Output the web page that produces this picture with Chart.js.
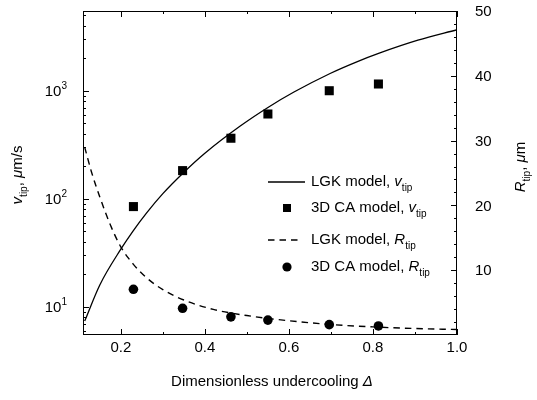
<!DOCTYPE html>
<html>
<head>
<meta charset="utf-8">
<script src="https://cdn.jsdelivr.net/npm/chart.js@4.4.1/dist/chart.umd.min.js"></script>
<style>
  html, body { margin: 0; padding: 0; background: #fff; }
</style>
</head>
<body>
<canvas id="chart" width="537" height="400"></canvas>
<script>
// LGK model, tip velocity (um/s)
const lgkVDelta = [0.114, 0.15, 0.2, 0.229, 0.261, 0.3, 0.349, 0.4, 0.485, 0.552, 0.612, 0.698, 0.763, 0.815, 0.907, 1.0]
const lgkV = [7.4, 16, 34.3, 50.5, 74, 112, 175, 265, 476, 711, 977, 1452, 1871, 2239, 2951, 3690]

// LGK model, tip radius (um)
const lgkRDelta = [0.114, 0.13, 0.15, 0.175, 0.2, 0.23, 0.26, 0.3, 0.35, 0.42, 0.5, 0.6, 0.7, 0.8, 0.9, 1.0]
const lgkR = [29.0, 25.2, 21.3, 17.0, 13.6, 10.9, 8.9, 7.0, 5.4, 3.95, 3.0, 2.2, 1.62, 1.25, 1.0, 0.85]

// 3D CA model
const caDelta = [0.23, 0.347, 0.462, 0.55, 0.696, 0.813]
const caV = [85, 183, 365, 612, 1005, 1160]
const caR = [7.05, 4.12, 2.8, 2.3, 1.6, 1.4]

// ticks
const xMajor = [0.2, 0.4, 0.6, 0.8, 1.0]
const xMinor = [0.3, 0.5, 0.7, 0.9]
const vMajor = [10, 100, 1000]
const rMajor = [10, 20, 30, 40, 50]

const pts = (xs, ys) => xs.map((x, i) => ({ x: x, y: ys[i] }))

const FONT = '"Liberation Sans", Arial, sans-serif'

function fontOf(p) {
  const size = p.sub || p.sup ? 10 : 15
  return (p.italic ? 'italic ' : '') + size + 'px ' + FONT
}

function drawRich(ctx, parts, x, y, align) {
  let w = 0
  parts.forEach(p => { ctx.font = fontOf(p); w += ctx.measureText(p.t).width })
  let cx = align === 'center' ? x - w / 2 : align === 'right' ? x - w : x
  ctx.textAlign = 'left'
  ctx.textBaseline = 'middle'
  parts.forEach(p => {
    ctx.font = fontOf(p)
    const dy = p.sub ? 6 : p.sup ? -6 : 0
    ctx.fillText(p.t, cx, y + dy)
    cx += ctx.measureText(p.t).width
  })
}

const framePlugin = {
  id: 'frame',
  afterDraw(chart) {
    const ctx = chart.ctx
    const a = chart.chartArea
    const sx = chart.scales.x
    const sy = chart.scales.y
    const sr = chart.scales.y2
    ctx.save()
    ctx.strokeStyle = '#000'
    ctx.fillStyle = '#000'
    ctx.lineWidth = 1
    ctx.strokeRect(a.left + 0.5, a.top + 0.5, a.right - a.left - 1, a.bottom - a.top - 1)

    const tick = (x1, y1, x2, y2) => {
      ctx.beginPath(); ctx.moveTo(x1, y1); ctx.lineTo(x2, y2); ctx.stroke()
    }
    // x ticks, bottom and top
    xMajor.forEach(v => {
      const px = Math.round(sx.getPixelForValue(v)) + 0.5
      tick(px, a.bottom, px, a.bottom - 6)
      tick(px, a.top, px, a.top + 6)
    })
    xMinor.forEach(v => {
      const px = Math.round(sx.getPixelForValue(v)) + 0.5
      tick(px, a.bottom, px, a.bottom - 3)
      tick(px, a.top, px, a.top + 3)
    })
    // log ticks, left
    for (let d = 1; d <= 1000; d *= 10) {
      for (let m = 1; m <= 9; m++) {
        const v = d * m
        if (v < sy.min || v > sy.max) continue
        const py = Math.round(sy.getPixelForValue(v)) + 0.5
        tick(a.left, py, a.left + (m === 1 ? 6 : 3), py)
      }
    }
    // R ticks, right
    for (let v = 2; v < 50; v += 2) {
      const py = Math.round(sr.getPixelForValue(v)) + 0.5
      tick(a.right, py, a.right - (v % 10 === 0 ? 6 : 3), py)
    }

    // tick labels
    ctx.font = '15px ' + FONT
    ctx.textAlign = 'center'
    ctx.textBaseline = 'middle'
    xMajor.forEach(v => ctx.fillText(v.toFixed(1), sx.getPixelForValue(v), a.bottom + 13))
    vMajor.forEach(v => {
      drawRich(ctx, [{ t: '10' }, { t: String(Math.round(Math.log10(v))), sup: true }],
        a.left - 16, sy.getPixelForValue(v) + 1, 'right')
    })
    ctx.font = '15px ' + FONT
    ctx.textAlign = 'left'
    rMajor.forEach(v => ctx.fillText(String(v), a.right + 18, sr.getPixelForValue(v) + 1))

    // axis titles
    drawRich(ctx, [{ t: 'Dimensionless undercooling ' }, { t: '\u0394', italic: true }],
      (a.left + a.right) / 2 + 2, a.bottom + 47, 'center')
    ctx.save()
    ctx.translate(18, (a.top + a.bottom) / 2 + 2)
    ctx.rotate(-Math.PI / 2)
    drawRich(ctx, [{ t: 'v', italic: true }, { t: 'tip', sub: true }, { t: ', ' }, { t: '\u03bc', italic: true }, { t: 'm/s' }], 0, 0, 'center')
    ctx.restore()
    ctx.save()
    ctx.translate(521, (a.top + a.bottom) / 2 - 6)
    ctx.rotate(-Math.PI / 2)
    drawRich(ctx, [{ t: 'R', italic: true }, { t: 'tip', sub: true }, { t: ', ' }, { t: '\u03bc', italic: true }, { t: 'm' }], 0, 0, 'center')
    ctx.restore()

    // legend
    const lx = 268, tx = 311
    const rows = [182, 208, 240, 267]
    ctx.lineWidth = 1.3
    tick(lx, rows[0], 305, rows[0])
    ctx.fillRect(283, rows[1] - 4, 8, 8)
    ctx.setLineDash([6.5, 5])
    tick(lx, rows[2], 302, rows[2])
    ctx.setLineDash([])
    ctx.beginPath(); ctx.arc(287, rows[3], 4.6, 0, Math.PI * 2); ctx.fill()
    drawRich(ctx, [{ t: 'LGK model, ' }, { t: 'v', italic: true }, { t: 'tip', sub: true }], tx, rows[0], 'left')
    drawRich(ctx, [{ t: '3D CA model, ' }, { t: 'v', italic: true }, { t: 'tip', sub: true }], tx, rows[1], 'left')
    drawRich(ctx, [{ t: 'LGK model, ' }, { t: 'R', italic: true }, { t: 'tip', sub: true }], tx, rows[2], 'left')
    drawRich(ctx, [{ t: '3D CA model, ' }, { t: 'R', italic: true }, { t: 'tip', sub: true }], tx, rows[3], 'left')
    ctx.restore()
  }
}

new Chart(document.getElementById('chart'), {
  type: 'scatter',
  data: {
    datasets: [
      {
        label: 'LGK model, v_tip',
        data: pts(lgkVDelta, lgkV),
        yAxisID: 'y',
        showLine: true,
        cubicInterpolationMode: 'monotone',
        borderColor: '#000',
        borderWidth: 1.3,
        pointRadius: 0,
      },
      {
        label: '3D CA model, v_tip',
        data: pts(caDelta, caV),
        yAxisID: 'y',
        pointStyle: 'rect',
        pointRadius: 6.4,
        backgroundColor: '#000',
        borderColor: '#000',
        borderWidth: 0,
      },
      {
        label: 'LGK model, R_tip',
        data: pts(lgkRDelta, lgkR),
        yAxisID: 'y2',
        showLine: true,
        cubicInterpolationMode: 'monotone',
        borderColor: '#000',
        borderWidth: 1.4,
        borderDash: [6.5, 5],
        pointRadius: 0,
      },
      {
        label: '3D CA model, R_tip',
        data: pts(caDelta, caR),
        yAxisID: 'y2',
        pointStyle: 'circle',
        pointRadius: 4.8,
        backgroundColor: '#000',
        borderColor: '#000',
        borderWidth: 0,
      },
    ],
  },
  options: {
    responsive: false,
    animation: false,
    layout: { padding: { top: 11, left: 0, right: 0, bottom: 0 } },
    plugins: {
      legend: { display: false },
      tooltip: { enabled: false },
    },
    scales: {
      x: {
        type: 'linear', min: 0.11, max: 1.0,
        grid: { display: false }, border: { display: false }, ticks: { display: false },
        afterFit: s => { s.height = 65 },
      },
      y: {
        type: 'logarithmic', position: 'left', min: 5.5, max: 5500,
        grid: { display: false }, border: { display: false }, ticks: { display: false },
        afterFit: s => { s.width = 83 },
      },
      y2: {
        type: 'linear', position: 'right', min: 0, max: 50,
        grid: { display: false }, border: { display: false }, ticks: { display: false },
        afterFit: s => { s.width = 80 },
      },
    },
  },
  plugins: [framePlugin],
})
</script>
</body>
</html>
